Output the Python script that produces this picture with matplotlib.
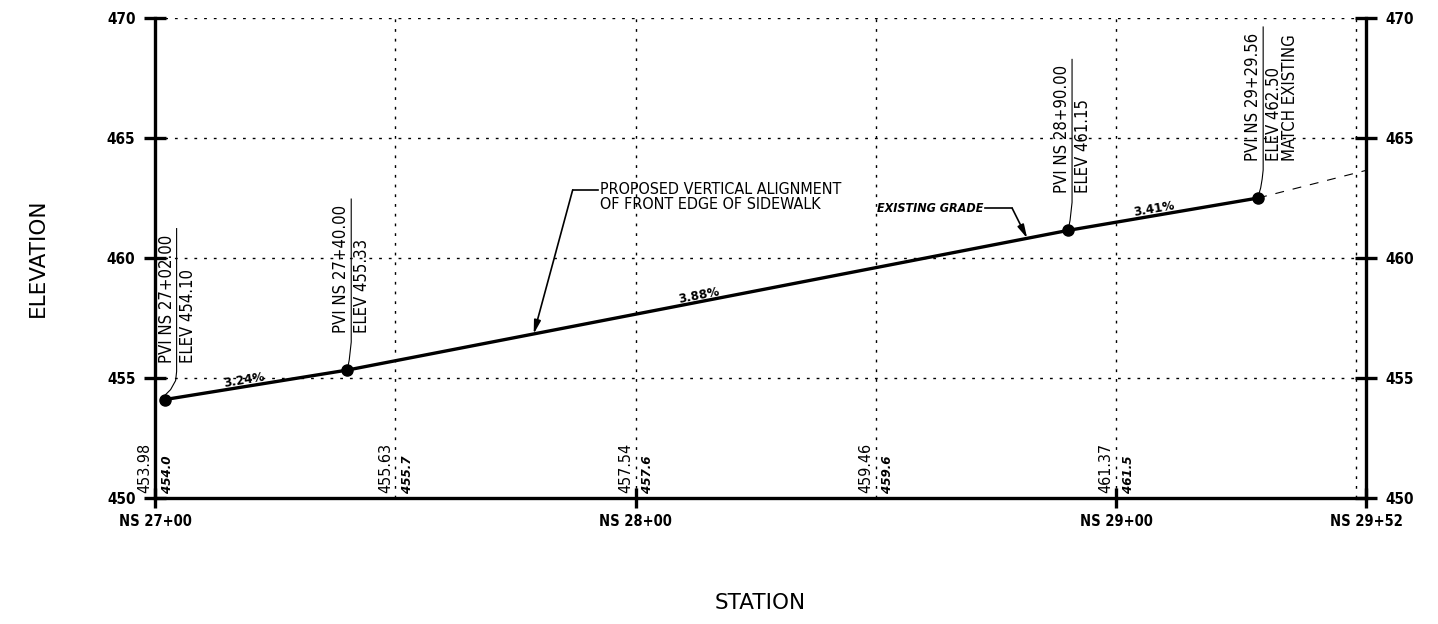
import numpy as np
import matplotlib
matplotlib.use("Agg")
import matplotlib.pyplot as plt
import matplotlib.transforms as mtransforms

plt.rcParams['font.family'] = ['DejaVu Sans']
plt.rcParams['font.stretch'] = 'condensed'

# profile data
pvi_sta = [2702.00, 2740.00, 2890.00, 2929.56]
pvi_elev = [454.10, 455.33, 461.15, 462.50]
pvi_label = ["PVI NS 27+02.00", "PVI NS 27+40.00", "PVI NS 28+90.00", "PVI NS 29+29.56"]
pvi_sub = ["ELEV 454.10", "ELEV 455.33", "ELEV 461.15", "ELEV 462.50\nMATCH EXISTING"]
grades = [3.24, 3.88, 3.41]
grade_pos = [0.44, 0.49, 0.46]   # where along each segment the grade text sits

ext_sta = [2929.56, 2952.0]
ext_elev = [462.50, 463.65]

# elevations written at the bottom of each 50' station
grid_sta = [2700, 2750, 2800, 2850, 2900]
exist_elev = [453.98, 455.63, 457.54, 459.46, 461.37]
prop_elev = [454.0, 455.7, 457.6, 459.6, 461.5]

xticks = [2700, 2800, 2900, 2952]
xtick_labels = ["NS 27+00", "NS 28+00", "NS 29+00", "NS 29+52"]
yticks = [450, 455, 460, 465, 470]

fig = plt.figure(figsize=(14.38, 6.24), dpi=100)
ax = fig.add_axes([155/1438, 126/624, 1211/1438, 480/624])
ax.set_xlim(2700, 2952)
ax.set_ylim(450, 470)

dot = (0, (2, 5))
for y in yticks[1:]:
    ax.axhline(y, color='black', lw=1.0, ls=dot, zorder=1)
for x in [2750, 2800, 2850, 2900, 2950]:
    ax.axvline(x, color='black', lw=1.0, ls=dot, zorder=1)

ax.spines['top'].set_visible(False)
for s in ['left', 'right', 'bottom']:
    ax.spines[s].set_linewidth(2.4)

ax.set_xticks(xticks)
ax.set_xticklabels(xtick_labels, fontsize=10.5, fontweight='bold')
ax.set_yticks(yticks)
ax.tick_params(axis='x', direction='inout', length=15, width=2.4, pad=4)
ax.tick_params(axis='y', direction='inout', length=16, width=2.4, pad=6,
               labelsize=11, right=True, labelright=True)
for lab in ax.get_yticklabels():
    lab.set_fontweight('bold')

# existing grade continuation + proposed profile
ax.plot(ext_sta, ext_elev, color='black', lw=0.8, ls=(0, (8, 8)), zorder=2)
ax.plot(pvi_sta, pvi_elev, color='black', lw=2.4, zorder=3, clip_on=False)
ax.plot(pvi_sta, pvi_elev, 'o', color='black', ms=8, zorder=4, clip_on=False)


def px_path(sta, elev):
    # pixel offsets around a data point
    return mtransforms.Affine2D() + mtransforms.ScaledTranslation(sta, elev, ax.transData)


# PVI labels with leaders
lead_dx = [12, 4, 4, 5]
for i in range(len(pvi_sta)):
    dx = lead_dx[i]
    xs = [dx, dx, dx - 1, dx * 0.5, 1]
    ys = [171, 28, 19, 10, 5]
    ax.plot(xs, ys, color='black', lw=0.8, transform=px_path(pvi_sta[i], pvi_elev[i]))
    ax.annotate(pvi_label[i], (pvi_sta[i], pvi_elev[i]), xytext=(dx - 1, 37),
                textcoords='offset pixels', rotation=90, rotation_mode='anchor',
                ha='left', va='bottom', fontsize=12)
    ax.annotate(pvi_sub[i], (pvi_sta[i], pvi_elev[i]), xytext=(dx + 2, 37),
                textcoords='offset pixels', rotation=90, rotation_mode='anchor',
                ha='left', va='top', fontsize=12, linespacing=0.85)

# grade labels on each segment
for i, g in enumerate(grades):
    s0, s1 = pvi_sta[i], pvi_sta[i + 1]
    e0, e1 = pvi_elev[i], pvi_elev[i + 1]
    ang = np.degrees(np.arctan2(e1 - e0, s1 - s0))
    f = grade_pos[i]
    ax.text(s0 + f * (s1 - s0), e0 + f * (e1 - e0), f"{g:.2f}%", rotation=ang,
            transform_rotates_text=True, rotation_mode='anchor', ha='center',
            va='bottom', fontsize=9.5, fontweight='bold')

# bottom elevations
for s, ee, pe in zip(grid_sta, exist_elev, prop_elev):
    ax.annotate(f"{ee:.2f}", (s, 450), xytext=(-10, 5), textcoords='offset pixels',
                rotation=90, rotation_mode='anchor', ha='left', va='center', fontsize=11.5)
    ax.annotate(f"{pe:.1f}", (s, 450), xytext=(12, 5), textcoords='offset pixels',
                rotation=90, rotation_mode='anchor', ha='left', va='center',
                fontsize=9.5, style='italic', fontweight='bold')

# callouts
tip_s = 2778.8
tip_e = pvi_elev[1] + grades[1] / 100 * (tip_s - pvi_sta[1])
ax.annotate("", (tip_s, tip_e), xytext=(39, 144), textcoords='offset pixels',
            arrowprops=dict(arrowstyle='-|>,head_length=0.8,head_width=0.2', color='black',
                            lw=1.2, shrinkA=0, shrinkB=0))
ax.plot([39, 64], [144, 144], color='black', lw=1.2, transform=px_path(tip_s, tip_e))
ax.annotate("PROPOSED VERTICAL ALIGNMENT\nOF FRONT EDGE OF SIDEWALK", (tip_s, tip_e),
            xytext=(66, 137), textcoords='offset pixels', ha='left', va='center',
            fontsize=11.5, linespacing=1.0)

tip_s2 = 2881.5
tip_e2 = pvi_elev[1] + grades[1] / 100 * (tip_s2 - pvi_sta[1])
ax.annotate("", (tip_s2, tip_e2), xytext=(-15, 30), textcoords='offset pixels',
            arrowprops=dict(arrowstyle='-|>,head_length=0.8,head_width=0.2', color='black',
                            lw=1.2, shrinkA=0, shrinkB=0))
ax.plot([-15, -42], [30, 30], color='black', lw=1.2, transform=px_path(tip_s2, tip_e2))
ax.annotate("EXISTING GRADE", (tip_s2, tip_e2), xytext=(-44, 30), textcoords='offset pixels',
            ha='right', va='center', fontsize=9, style='italic', fontweight='bold')

fig.text(38/1438, 1 - 258/624, "ELEVATION", rotation=90, ha='center', va='center',
         fontsize=15.5, fontstretch='normal')
fig.text(760/1438, 1 - 603/624, "STATION", ha='center', va='center', fontsize=15.5,
         fontstretch='normal')

fig.savefig("out.png", dpi=100)
